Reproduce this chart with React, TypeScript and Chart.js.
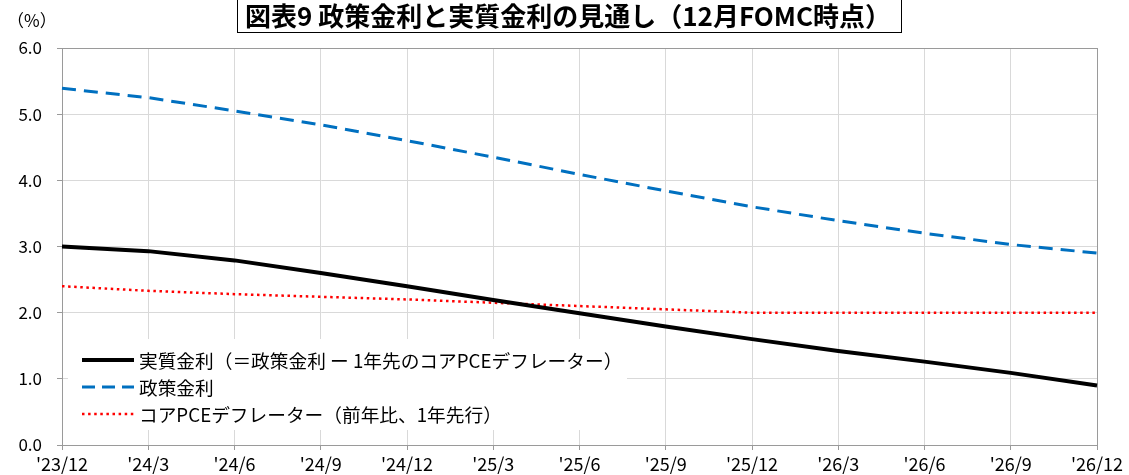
import React, { useEffect, useRef } from "react";
import { Chart, registerables } from "chart.js";

Chart.register(...registerables);

const TITLE = "図表9 政策金利と実質金利の見通し（12月FOMC時点）";
const UNIT_LABEL = "（%）";
const CATEGORIES = ["'23/12", "'24/3", "'24/6", "'24/9", "'24/12", "'25/3", "'25/6", "'25/9", "'25/12", "'26/3", "'26/6", "'26/9", "'26/12"];
const REAL_RATE = [3.0, 2.93, 2.79, 2.6, 2.4, 2.19, 1.99, 1.79, 1.6, 1.42, 1.26, 1.09, 0.9];
const POLICY_RATE = [5.39, 5.25, 5.05, 4.84, 4.6, 4.35, 4.09, 3.84, 3.6, 3.39, 3.2, 3.03, 2.9];
const CORE_PCE = [2.4, 2.33, 2.28, 2.24, 2.2, 2.15, 2.1, 2.05, 2.0, 2.0, 2.0, 2.0, 2.0];
const SERIES_NAMES = ["実質金利（＝政策金利 ー 1年先のコアPCEデフレーター）", "政策金利", "コアPCEデフレーター（前年比、1年先行）"];

const FONT = "'Noto Sans CJK JP', 'Noto Sans', sans-serif";
const COLORS = ["#000000", "#0070C0", "#FF0000"];
const WIDTHS = [4, 3, 2.5];
const DASHES: number[][] = [[], [14, 8], [2.5, 3.6]];

const overlayPlugin = {
  id: "overlay",
  beforeDatasetsDraw(chart: any) {
    const ctx = chart.ctx;
    const a = chart.chartArea;
    ctx.save();
    ctx.strokeStyle = "#9a9a9a";
    ctx.lineWidth = 1;
    ctx.strokeRect(Math.round(a.left) + 0.5, Math.round(a.top) + 0.5, Math.round(a.right - a.left), Math.round(a.bottom - a.top));
    const lx = 68, ly = 339, lw = 559, lh = 91;
    ctx.fillStyle = "#ffffff";
    ctx.fillRect(lx, ly, lw, lh);
    const rows = [360, 387, 414];
    ctx.font = "18.7px " + FONT;
    ctx.textBaseline = "middle";
    ctx.textAlign = "left";
    for (let i = 0; i < SERIES_NAMES.length; i++) {
      ctx.beginPath();
      ctx.strokeStyle = COLORS[i];
      ctx.lineWidth = WIDTHS[i];
      ctx.setLineDash(i === 1 ? [13, 7] : DASHES[i]);
      ctx.moveTo(82, rows[i]);
      ctx.lineTo(134, rows[i]);
      ctx.stroke();
      ctx.setLineDash([]);
      ctx.fillStyle = "#000";
      ctx.fillText(SERIES_NAMES[i], 139, rows[i] + 1);
    }
    ctx.restore();
  },
  afterDraw(chart: any) {
    const ctx = chart.ctx;
    ctx.save();
    ctx.font = "bold 26px " + FONT;
    ctx.textAlign = "center";
    ctx.textBaseline = "middle";
    ctx.fillStyle = "#000";
    ctx.fillText(TITLE, 568, 16);
    ctx.strokeStyle = "#000";
    ctx.lineWidth = 1;
    ctx.strokeRect(237.5, -1.5, 664, 34);
    ctx.font = "17px " + FONT;
    ctx.textAlign = "left";
    ctx.fillText(UNIT_LABEL, 7, 21);
    ctx.restore();
  },
};

export default function App() {
  const ref = useRef<HTMLCanvasElement | null>(null);
  useEffect(() => {
    document.body.style.margin = "0";
    const canvas = ref.current!;
    const datasets = [REAL_RATE, POLICY_RATE, CORE_PCE].map((d, i) => ({
      label: SERIES_NAMES[i],
      data: d,
      borderColor: COLORS[i],
      backgroundColor: COLORS[i],
      borderWidth: WIDTHS[i],
      borderDash: DASHES[i],
      pointRadius: 0,
      tension: 0,
      fill: false,
      order: i,
    }));
    const chart = new Chart(canvas, {
      type: "line",
      data: { labels: CATEGORIES, datasets },
      options: {
        responsive: false,
        animation: false,
        layout: { padding: { top: 48, right: 32, left: 0, bottom: 0 } },
        plugins: { legend: { display: false }, title: { display: false }, tooltip: { enabled: false } },
        scales: {
          x: {
            offset: false,
            grid: { color: "#d9d9d9", tickColor: "#9a9a9a", tickLength: 5, offset: false },
            border: { color: "#9a9a9a" },
            ticks: { color: "#000", font: { family: FONT, size: 18 }, padding: 3, maxRotation: 0, autoSkip: false },
            afterFit(s: any) { s.height = 30; },
          },
          y: {
            min: 0,
            max: 6,
            grid: { color: "#d9d9d9", tickColor: "#9a9a9a", tickLength: 5 },
            border: { color: "#9a9a9a" },
            ticks: { stepSize: 1, color: "#000", font: { family: FONT, size: 17 }, padding: 15, callback: (v: any) => Number(v).toFixed(1) },
            afterFit(s: any) { s.width = 62; },
          },
        },
      },
      plugins: [overlayPlugin],
    });
    return () => chart.destroy();
  }, []);
  return <canvas ref={ref} width={1129} height={475} style={{ display: "block" }} />;
}
